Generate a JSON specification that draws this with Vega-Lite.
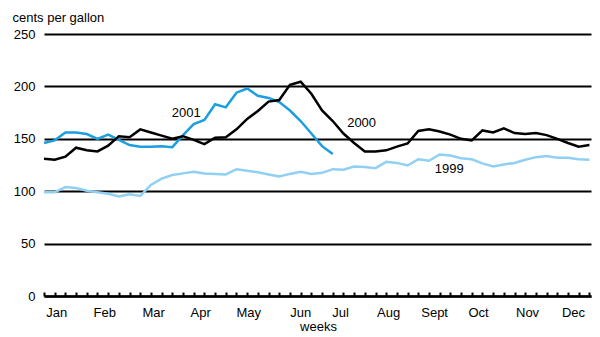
{
  "$schema": "https://vega.github.io/schema/vega-lite/v6.json",
  "width": 547,
  "height": 262,
  "autosize": {"type": "none"},
  "padding": {"left": 44, "top": 34, "right": 9, "bottom": 41},
  "background": "white",
  "config": {"view": {"stroke": null}, "font": "Liberation Sans"},
  "datasets": {
    "prices": [
      {"week": 1, "1999": 99, "2000": 131, "2001": 146},
      {"week": 2, "1999": 99, "2000": 130, "2001": 148.5},
      {"week": 3, "1999": 104, "2000": 133, "2001": 156},
      {"week": 4, "1999": 103, "2000": 141.5, "2001": 156},
      {"week": 5, "1999": 100.5, "2000": 139, "2001": 154.5},
      {"week": 6, "1999": 99, "2000": 138, "2001": 150},
      {"week": 7, "1999": 97.5, "2000": 143.5, "2001": 154},
      {"week": 8, "1999": 95, "2000": 152.5, "2001": 149},
      {"week": 9, "1999": 97, "2000": 151.5, "2001": 144},
      {"week": 10, "1999": 95.5, "2000": 159, "2001": 142.5},
      {"week": 11, "1999": 106, "2000": 156, "2001": 142.5},
      {"week": 12, "1999": 112, "2000": 153, "2001": 143},
      {"week": 13, "1999": 115.5, "2000": 150, "2001": 142},
      {"week": 14, "1999": 117, "2000": 152.5, "2001": 153.5},
      {"week": 15, "1999": 118.5, "2000": 149, "2001": 164},
      {"week": 16, "1999": 117, "2000": 145, "2001": 168},
      {"week": 17, "1999": 116.5, "2000": 151, "2001": 183},
      {"week": 18, "1999": 116, "2000": 151.5, "2001": 180},
      {"week": 19, "1999": 121, "2000": 159, "2001": 194},
      {"week": 20, "1999": 119.5, "2000": 169, "2001": 198},
      {"week": 21, "1999": 118, "2000": 176.5, "2001": 191},
      {"week": 22, "1999": 116, "2000": 185.5, "2001": 189},
      {"week": 23, "1999": 114, "2000": 187, "2001": 185},
      {"week": 24, "1999": 116.5, "2000": 201.5, "2001": 177},
      {"week": 25, "1999": 118.5, "2000": 204.5, "2001": 167},
      {"week": 26, "1999": 116.5, "2000": 193, "2001": 155},
      {"week": 27, "1999": 117.5, "2000": 177, "2001": 143},
      {"week": 28, "1999": 121, "2000": 167, "2001": 135.5},
      {"week": 29, "1999": 120.5, "2000": 155},
      {"week": 30, "1999": 123.5, "2000": 146},
      {"week": 31, "1999": 123, "2000": 138},
      {"week": 32, "1999": 122, "2000": 138},
      {"week": 33, "1999": 128, "2000": 139},
      {"week": 34, "1999": 127, "2000": 142.5},
      {"week": 35, "1999": 124.5, "2000": 145.5},
      {"week": 36, "1999": 130.5, "2000": 157.5},
      {"week": 37, "1999": 129, "2000": 159},
      {"week": 38, "1999": 135, "2000": 157},
      {"week": 39, "1999": 134, "2000": 154},
      {"week": 40, "1999": 131.5, "2000": 150},
      {"week": 41, "1999": 130.5, "2000": 148.5},
      {"week": 42, "1999": 126.5, "2000": 158},
      {"week": 43, "1999": 123.5, "2000": 156},
      {"week": 44, "1999": 125.5, "2000": 160},
      {"week": 45, "1999": 127, "2000": 155.5},
      {"week": 46, "1999": 130, "2000": 154.5},
      {"week": 47, "1999": 132.5, "2000": 155.5},
      {"week": 48, "1999": 133.5, "2000": 153.5},
      {"week": 49, "1999": 132, "2000": 150},
      {"week": 50, "1999": 132, "2000": 146},
      {"week": 51, "1999": 130.5, "2000": 142.5},
      {"week": 52, "1999": 130, "2000": 144}
    ],
    "labels": [
      {"week": 14.3, "value": 170.5, "text": "2001"},
      {"week": 30.7, "value": 161.5, "text": "2000"},
      {"week": 38.9, "value": 117, "text": "1999"}
    ]
  },
  "layer": [
    {
      "data": {"name": "prices"},
      "transform": [{"fold": ["1999", "2001", "2000"], "as": ["year", "value"]}],
      "mark": {"type": "line", "strokeWidth": 2.5, "strokeJoin": "miter"},
      "encoding": {
        "x": {
          "field": "week",
          "type": "quantitative",
          "scale": {"domain": [1, 52.15], "nice": false, "zero": false},
          "axis": {
            "orient": "bottom",
            "values": [1,2,3,4,5,6,7,8,9,10,11,12,13,14,15,16,17,18,19,20,21,22,23,24,25,26,27,28,29,30,31,32,33,34,35,36,37,38,39,40,41,42,43,44,45,46,47,48,49,50,51,52],
            "labels": false,
            "ticks": true,
            "tickSize": -4,
            "tickWidth": 2,
            "tickColor": "black",
            "domain": true,
            "domainColor": "black",
            "domainWidth": 2.5,
            "grid": false,
            "title": "weeks",
            "titleFont": "Liberation Sans",
            "titleFontSize": 13,
            "titleFontWeight": "normal",
            "titleColor": "black",
            "titleX": 274,
            "titleY": 34,
            "titleAlign": "center",
            "titleBaseline": "alphabetic"
          }
        },
        "y": {
          "field": "value",
          "type": "quantitative",
          "scale": {"domain": [0, 250], "nice": false},
          "axis": {
            "values": [0, 50, 100, 150, 200, 250],
            "grid": true,
            "gridColor": "black",
            "gridWidth": 2,
            "gridOpacity": 1,
            "domain": false,
            "ticks": false,
            "labelFont": "Liberation Sans",
            "labelFontSize": 13,
            "labelColor": "black",
            "labelPadding": 9,
            "title": "cents per gallon",
            "titleFont": "Liberation Sans",
            "titleFontSize": 13,
            "titleFontWeight": "normal",
            "titleColor": "black",
            "titleAngle": 0,
            "titleX": -32,
            "titleY": -13,
            "titleAlign": "left",
            "titleBaseline": "alphabetic"
          }
        },
        "color": {
          "field": "year",
          "type": "nominal",
          "scale": {"domain": ["1999", "2000", "2001"], "range": ["#8fd0f3", "#000000", "#1b9fe0"]},
          "legend": null
        },
        "order": {"field": "week", "type": "quantitative"}
      }
    },
    {
      "data": {"name": "labels"},
      "mark": {"type": "text", "font": "Liberation Sans", "fontSize": 13, "color": "black", "align": "center", "baseline": "alphabetic"},
      "encoding": {
        "x": {
          "field": "week",
          "type": "quantitative",
          "axis": {
            "orient": "bottom",
            "values": [2.15, 6.63, 11.21, 15.6, 20.1, 24.96, 28.69, 33.18, 37.48, 41.59, 46.17, 50.47],
            "labelExpr": "['Jan','Feb','Mar','Apr','May','Jun','Jul','Aug','Sept','Oct','Nov','Dec'][indexof([2.15, 6.63, 11.21, 15.6, 20.1, 24.96, 28.69, 33.18, 37.48, 41.59, 46.17, 50.47], datum.value)]",
            "ticks": false,
            "domain": false,
            "grid": false,
            "labelFont": "Liberation Sans",
            "labelFontSize": 13,
            "labelColor": "black",
            "labelPadding": 10,
            "labelBaseline": "top",
            "labelFlush": false,
            "labelOverlap": false,
            "title": null
          }
        },
        "y": {"field": "value", "type": "quantitative"},
        "text": {"field": "text"}
      }
    }
  ],
  "resolve": {"scale": {"x": "shared"}, "axis": {"x": "independent"}}
}
